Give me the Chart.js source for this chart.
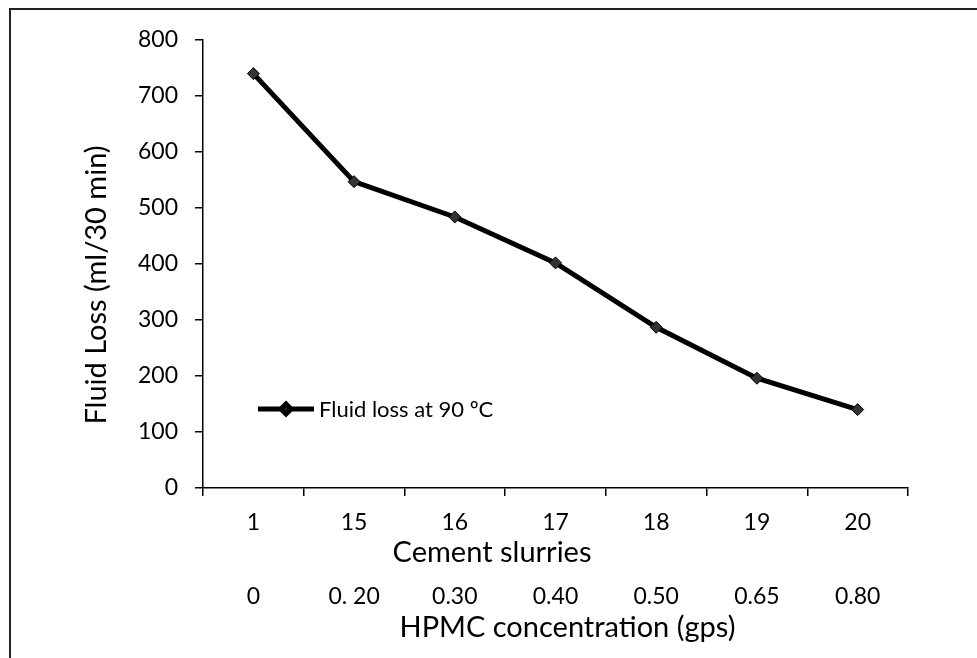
<!DOCTYPE html>
<html>
<head>
<meta charset="utf-8">
<script src="https://cdn.jsdelivr.net/npm/chart.js@4/dist/chart.umd.min.js"></script>
<style>
  html, body { margin: 0; padding: 0; background: #fff; }
  #wrap { width: 977px; height: 658px; position: relative; }
</style>
</head>
<body>
<div id="wrap"><canvas id="fluidChart"></canvas></div>
<script>
// values
const slurries = ['1', '15', '16', '17', '18', '19', '20'];
const hpmc = ['0', '0. 20', '0.30', '0.40', '0.50', '0.65', '0.80'];
const fluidLoss = [740, 547, 484, 402, 287, 196, 140];
const yTicks = [0, 100, 200, 300, 400, 500, 600, 700, 800];

const FONT = 'Lato, "Open Sans", sans-serif';
const TITLE_FONT = '29px ' + FONT;

// white page + the scanned frame (top and left edges only)
const framePlugin = {
    id: 'frame',
    beforeDraw(chart) {
        const c = chart.ctx;
        c.save();
        c.fillStyle = '#fff';
        c.fillRect(0, 0, chart.width, chart.height);
        c.strokeStyle = '#222';
        c.lineWidth = 2;
        c.beginPath();
        c.moveTo(10, 658);
        c.lineTo(10, 9);
        c.lineTo(977, 9);
        c.stroke();
        c.restore();
    }
};

// axis titles were loose text boxes in the original, not centred on the axis
const axisTitles = {
    id: 'axisTitles',
    afterDraw(chart) {
        const a = chart.chartArea;
        const w = a.right - a.left;
        const c = chart.ctx;
        c.save();
        c.fillStyle = '#000';
        c.font = TITLE_FONT;
        c.textAlign = 'center';
        c.textBaseline = 'middle';
        c.fillText('Cement slurries', a.left + w * 0.41, a.bottom + 65);
        c.fillText('HPMC concentration (gps)', a.left + w * 0.517, a.bottom + 140);
        c.translate(97, a.top + 245);
        c.rotate(-Math.PI / 2);
        c.fillText('Fluid Loss (ml/30 min)', 0, 0);
        c.restore();
    }
};

// legend sits inside the plot, on the left
const insideLegend = {
    id: 'insideLegend',
    afterDraw(chart) {
        const ds = chart.data.datasets[0];
        const c = chart.ctx;
        const y = chart.scales.y.getPixelForValue(100) - 23;
        const x0 = chart.chartArea.left + 55;
        const x1 = x0 + 56;
        c.save();
        c.strokeStyle = ds.borderColor;
        c.lineWidth = ds.borderWidth;
        c.beginPath();
        c.moveTo(x0, y);
        c.lineTo(x1, y);
        c.stroke();
        c.fillStyle = ds.pointBackgroundColor;
        c.strokeStyle = ds.pointBorderColor;
        Chart.helpers.drawPoint(c, {
            pointStyle: 'rectRot',
            radius: 5,
            rotation: 0,
            borderWidth: 1
        }, (x0 + x1) / 2, y);
        c.fillStyle = '#000';
        c.font = '22px ' + FONT;
        c.textBaseline = 'middle';
        c.fillText(ds.label, x1 + 5, y + 1);
        c.restore();
    }
};

const ctx = document.getElementById('fluidChart').getContext('2d');
const fluidChart = new Chart(ctx, {
    type: 'line',
    data: {
        labels: slurries,
        datasets: [{
            label: 'Fluid loss at 90 ºC',
            data: fluidLoss,
            borderColor: '#000',
            borderWidth: 5,
            pointStyle: 'rectRot',
            pointRadius: 6,
            pointBackgroundColor: '#333',
            pointBorderColor: '#000',
            pointBorderWidth: 1,
            tension: 0
        }]
    },
    options: {
        responsive: true,
        maintainAspectRatio: false,
        animation: false,
        layout: { padding: { left: 0, top: 40, right: 69, bottom: 0 } },
        plugins: {
            legend: { display: false },
            tooltip: { enabled: false }
        },
        scales: {
            x: {
                type: 'category',
                offset: true,
                afterFit(scale) { scale.height = 49; },
                grid: {
                    offset: true,
                    drawOnChartArea: false,
                    tickLength: 8,
                    color: '#000',
                    lineWidth: 1.5
                },
                border: { color: '#000', width: 1.5 },
                ticks: { color: '#000', font: { family: FONT, size: 23 }, padding: 13 }
            },
            x2: {
                type: 'category',
                labels: hpmc,
                position: 'bottom',
                offset: true,
                afterFit(scale) { scale.height = 121; },
                grid: { display: false, drawTicks: false },
                border: { display: false },
                ticks: { color: '#000', font: { family: FONT, size: 23 }, padding: 46 }
            },
            y: {
                min: 0,
                max: 800,
                afterBuildTicks(scale) {
                    scale.ticks = yTicks.map(v => ({ value: v }));
                },
                afterFit(scale) { scale.width = 203; },
                grid: {
                    drawOnChartArea: false,
                    tickLength: 8,
                    color: '#000',
                    lineWidth: 1.5
                },
                border: { color: '#000', width: 1.5 },
                ticks: { color: '#000', font: { family: FONT, size: 23 }, padding: 17 }
            }
        }
    },
    plugins: [framePlugin, axisTitles, insideLegend]
});
</script>
</body>
</html>
